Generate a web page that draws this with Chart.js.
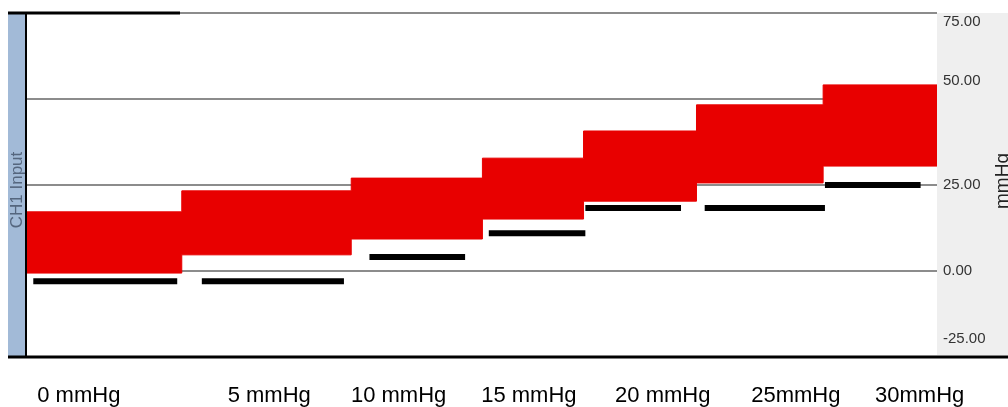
<!DOCTYPE html>
<html>
<head>
<meta charset="utf-8">
<script src="https://cdn.jsdelivr.net/npm/chart.js@4"></script>
<style>
    body { margin: 0; background: #fff; }
</style>
</head>
<body>
<canvas id="pressureChart" width="1008" height="407"></canvas>
<script>
// time axis in seconds, one step per pressure level
const segmentEdges = [0, 17.1, 35.7, 50.1, 61.2, 73.6, 87.5, 100];
const signalHigh = [17.2, 23.3, 27.0, 32.8, 40.7, 48.3, 54.1];
const signalLow = [-0.6, 4.7, 9.3, 15.1, 20.3, 25.6, 30.5];

// black reference bars under each step
const baseStart = [0.8, 19.3, 37.7, 50.8, 61.4, 74.5, 87.7];
const baseEnd = [16.6, 34.9, 48.2, 61.4, 71.9, 87.7, 98.2];
const baseLevel = [-3.0, -3.0, 4.1, 11.0, 18.3, 18.3, 25.0];

const pressureLabels = ['0 mmHg', '5 mmHg', '10 mmHg', '15 mmHg', '20 mmHg', '25mmHg', '30mmHg'];
const labelAt = [5.8, 26.7, 40.9, 55.2, 69.9, 84.5, 98.1];
const yTicks = [-25, 0, 25, 50, 75];

function stepPoints(values) {
    const pts = values.map((v, i) => ({ x: segmentEdges[i], y: v }));
    pts.push({ x: segmentEdges[segmentEdges.length - 1], y: values[values.length - 1] });
    return pts;
}

function basePoints() {
    const pts = [];
    baseLevel.forEach((v, i) => {
        pts.push({ x: baseStart[i], y: v });
        pts.push({ x: baseEnd[i], y: v });
        pts.push({ x: baseEnd[i], y: null });
    });
    return pts;
}

// the screenshot's labels sit a little off their grid lines
function yLabel(v) {
    const text = v.toFixed(2);
    if (v === 75) return ['', text];
    if (v === 50 || v === -25) return [text, '', ''];
    return text;
}

const frame = {
    id: 'frame',
    beforeDraw(chart) {
        const { ctx, chartArea: a, width } = chart;
        ctx.save();
        // blue channel strip
        ctx.fillStyle = '#a2bad7';
        ctx.fillRect(a.left - 18, a.top, 18, a.bottom - a.top);
        // grey axis panel
        ctx.fillStyle = '#efefef';
        ctx.fillRect(a.right, a.top, width - a.right, a.bottom - a.top - 2);
        ctx.restore();
    },
    afterDraw(chart) {
        const { ctx, chartArea: a, width } = chart;
        ctx.save();
        ctx.strokeStyle = '#000';
        ctx.lineWidth = 2;
        ctx.beginPath();
        ctx.moveTo(a.left, a.top);
        ctx.lineTo(a.left, a.bottom);
        ctx.stroke();
        ctx.lineWidth = 3;
        ctx.beginPath();
        ctx.moveTo(a.left - 18, a.bottom);
        ctx.lineTo(width, a.bottom);
        ctx.stroke();
        ctx.beginPath();
        ctx.moveTo(a.left - 18, a.top);
        ctx.lineTo(a.left + 154, a.top);
        ctx.stroke();

        ctx.textAlign = 'center';
        ctx.textBaseline = 'middle';
        ctx.translate(a.left - 9, 190);
        ctx.rotate(-Math.PI / 2);
        ctx.fillStyle = '#55667e';
        ctx.font = '17px "Liberation Sans", Arial, sans-serif';
        ctx.fillText('CH1 Input', 0, 0);
        ctx.restore();

        ctx.save();
        ctx.textAlign = 'center';
        ctx.textBaseline = 'middle';
        ctx.translate(width - 5, 181);
        ctx.rotate(-Math.PI / 2);
        ctx.fillStyle = '#222';
        ctx.font = '19px "Liberation Sans", Arial, sans-serif';
        ctx.fillText('mmHg', 0, 0);
        ctx.restore();
    }
};

const ctx = document.getElementById('pressureChart').getContext('2d');
const pressureChart = new Chart(ctx, {
    type: 'line',
    data: {
        datasets: [
            {
                label: 'high',
                data: stepPoints(signalHigh),
                stepped: 'before',
                borderColor: '#e80000',
                borderWidth: 1,
                backgroundColor: '#e80000',
                fill: '+1',
                pointRadius: 0,
                order: 2
            },
            {
                label: 'low',
                data: stepPoints(signalLow),
                stepped: 'before',
                borderColor: '#e80000',
                borderWidth: 1,
                fill: false,
                pointRadius: 0,
                order: 2
            },
            {
                label: 'base',
                data: basePoints(),
                borderColor: '#000',
                borderWidth: 6,
                borderCapStyle: 'butt',
                spanGaps: false,
                fill: false,
                pointRadius: 0,
                order: 1
            }
        ]
    },
    options: {
        responsive: false,
        animation: false,
        layout: { padding: { left: 26, top: 13 } },
        plugins: {
            legend: { display: false },
            tooltip: { enabled: false }
        },
        scales: {
            x: {
                type: 'linear',
                min: 0,
                max: 100,
                grid: { display: false, drawTicks: false },
                border: { display: false },
                afterFit: s => { s.height = 50; },
                afterBuildTicks: s => { s.ticks = labelAt.map(v => ({ value: v })); },
                ticks: {
                    autoSkip: false,
                    maxRotation: 0,
                    minRotation: 0,
                    padding: 26,
                    color: '#000',
                    font: { family: '"Liberation Sans", Arial, sans-serif', size: 22 },
                    callback: (v, i) => pressureLabels[i]
                }
            },
            y: {
                position: 'right',
                min: -25,
                max: 75,
                grid: { color: '#8c8c8c', lineWidth: 2, drawTicks: false },
                border: { display: false },
                afterFit: s => {
                    s.width = 71;
                    s.paddingTop = 0;
                    s.paddingBottom = 0;
                },
                afterBuildTicks: s => { s.ticks = yTicks.map(v => ({ value: v })); },
                ticks: {
                    padding: 6,
                    color: '#333',
                    font: { family: '"Liberation Sans Narrow", "Liberation Sans", Arial, sans-serif', size: 15 },
                    callback: v => yLabel(v)
                }
            }
        }
    },
    plugins: [frame]
});
</script>
</body>
</html>
